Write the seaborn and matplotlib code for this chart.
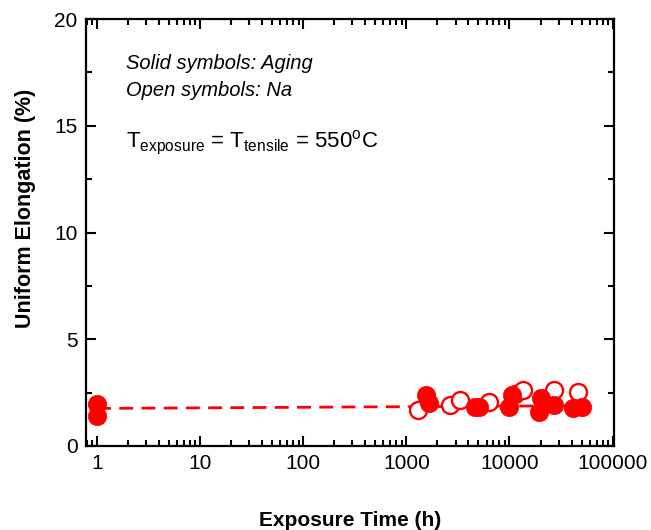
import matplotlib
matplotlib.use("Agg")
import matplotlib.pyplot as plt
import matplotlib.ticker as mticker
import seaborn as sns
import pandas as pd

# ---- data ----
aging_time = [1, 1, 1550, 1650, 4600, 5100, 10000, 10700, 19500, 20400, 27300, 41000, 50000]
aging_ue = [1.98, 1.40, 2.40, 2.00, 1.83, 1.83, 1.83, 2.39, 1.58, 2.25, 1.92, 1.80, 1.82]

na_time = [1300, 2650, 3300, 6400, 11200, 13400, 23400, 27300, 45700]
na_ue = [1.70, 1.92, 2.15, 2.06, 2.44, 2.62, 2.15, 2.62, 2.53]

fit_time = [1, 60000]
fit_ue = [1.76, 1.89]

x_ticks = [1, 10, 100, 1000, 10000, 100000]
x_tick_labels = ["1", "10", "100", "1000", "10000", "100000"]
y_ticks = [0, 5, 10, 15, 20]

sns.set_style("ticks")
plt.rcParams["font.family"] = ["Liberation Sans", "DejaVu Sans"]
plt.rcParams["mathtext.fontset"] = "custom"
plt.rcParams["mathtext.rm"] = "Liberation Sans"
plt.rcParams["mathtext.it"] = "Liberation Sans:italic"
for k in ["text.color", "axes.labelcolor", "xtick.color", "ytick.color", "axes.edgecolor"]:
    plt.rcParams[k] = "black"

fig = plt.figure(figsize=(6.51, 5.30), dpi=100)
ax = fig.add_axes([0.132, 0.1585, 0.811, 0.8055])

red = "#ff0000"
df_fit = pd.DataFrame({"t": fit_time, "ue": fit_ue})
sns.lineplot(data=df_fit, x="t", y="ue", ax=ax, color=red, lw=2, linestyle=(0, (5, 3)), zorder=2)

df_na = pd.DataFrame({"t": na_time, "ue": na_ue})
sns.scatterplot(data=df_na, x="t", y="ue", ax=ax, marker="o", s=150,
                facecolor="white", edgecolor=red, linewidth=1.7, zorder=3)
df_ag = pd.DataFrame({"t": aging_time, "ue": aging_ue})
sns.scatterplot(data=df_ag, x="t", y="ue", ax=ax, marker="o", s=175,
                color=red, edgecolor=red, linewidth=0.5, zorder=4)

ax.set_xscale("log")
ax.set_xlim(0.78, 1.03e5)
ax.set_ylim(0, 20)
ax.set_xticks(x_ticks)
ax.set_xticklabels(x_tick_labels)
ax.xaxis.set_minor_locator(mticker.LogLocator(base=10, subs=range(2, 10), numticks=20))
ax.xaxis.set_minor_formatter(mticker.NullFormatter())
ax.set_yticks(y_ticks)
ax.yaxis.set_minor_locator(mticker.MultipleLocator(2.5))

for s in ax.spines.values():
    s.set_visible(True)
    s.set_linewidth(1.6)
    s.set_color("black")
ax.tick_params(which="both", direction="in", top=True, right=True, width=1.5, colors="black")
ax.tick_params(which="major", length=7, labelsize=15, pad=6)
ax.tick_params(which="minor", length=4)

ax.set_xlabel("Exposure Time (h)", fontsize=15, fontweight="bold", labelpad=27)
ax.set_ylabel("Uniform Elongation (%)", fontsize=15.5, fontweight="bold")
ax.yaxis.set_label_coords(-0.094, 0.557)

ax.text(0.075, 0.897, "Solid symbols: Aging", transform=ax.transAxes, fontsize=14.5,
        style="italic", va="center")
ax.text(0.075, 0.832, "Open symbols: Na", transform=ax.transAxes, fontsize=14.5,
        style="italic", va="center")
ax.text(0.075, 0.71, r"T$_{\mathrm{exposure}}$ = T$_{\mathrm{tensile}}$ = 550$^{\mathrm{o}}$C",
        transform=ax.transAxes, fontsize=16, va="center")

fig.savefig("out.png", dpi=100)
